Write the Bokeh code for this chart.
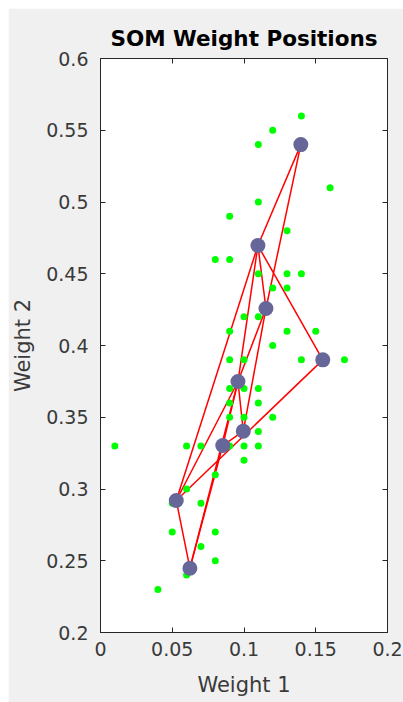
from bokeh.plotting import figure
from bokeh.models import LinearAxis, FixedTicker, CustomJSTickFormatter, Range1d
from bokeh.embed import file_html
from bokeh.resources import INLINE

# Input data (green dots)
data_w1 = [0.14, 0.12, 0.11, 0.16, 0.11, 0.09, 0.13, 0.08, 0.09, 0.11, 0.13, 0.14, 0.12, 0.13,
           0.10, 0.11, 0.09, 0.13, 0.15, 0.12, 0.09, 0.10, 0.14, 0.17, 0.09, 0.10, 0.11, 0.09,
           0.11, 0.09, 0.10, 0.12, 0.11, 0.01, 0.06, 0.07, 0.09, 0.10, 0.11, 0.10, 0.08, 0.06,
           0.05, 0.07, 0.05, 0.08, 0.07, 0.08, 0.06, 0.04]
data_w2 = [0.56, 0.55, 0.54, 0.51, 0.50, 0.49, 0.48, 0.46, 0.46, 0.45, 0.45, 0.45, 0.44, 0.44,
           0.42, 0.42, 0.41, 0.41, 0.41, 0.40, 0.39, 0.39, 0.39, 0.39, 0.37, 0.37, 0.37, 0.36,
           0.36, 0.35, 0.35, 0.35, 0.34, 0.33, 0.33, 0.33, 0.33, 0.33, 0.33, 0.32, 0.31, 0.30,
           0.29, 0.29, 0.27, 0.27, 0.26, 0.25, 0.24, 0.23]

# SOM neuron weights (3x3 hexagonal topology, neuron index order)
node_w1 = [0.1396, 0.1153, 0.0995, 0.1097, 0.0958, 0.0852, 0.1549, 0.0528, 0.0623]
node_w2 = [0.5400, 0.4258, 0.3403, 0.4697, 0.3749, 0.3303, 0.3900, 0.2920, 0.2448]

# neighbour links (neuron index pairs)
edges = [(0, 1), (1, 2), (3, 4), (4, 5), (6, 7), (7, 8), (0, 3), (1, 3),
         (1, 4), (2, 4), (2, 5), (3, 6), (3, 7), (4, 7), (4, 8), (5, 8)]

x_ticks = [0, 0.05, 0.1, 0.15, 0.2]
y_ticks = [0.2, 0.25, 0.3, 0.35, 0.4, 0.45, 0.5, 0.55, 0.6]

FONT = "DejaVu Sans"
AX_COLOR = "#262626"
TXT_COLOR = "#3a3a3a"

p = figure(width=395, height=694, margin=(8, 0, 0, 8),
           x_range=Range1d(0, 0.2), y_range=Range1d(0.2, 0.6),
           output_backend="svg", toolbar_location=None,
           title="SOM Weight Positions",
           min_border_left=91, min_border_right=16,
           min_border_top=50, min_border_bottom=70,
           background_fill_color="white", border_fill_color="#f0f0f0",
           outline_line_color=AX_COLOR, outline_line_width=1)

p.title.align = "center"
p.title.text_font = FONT
p.title.text_font_size = "21.5px"
p.title.text_font_style = "bold"
p.title.text_color = "#000000"
p.title.standoff = 15

p.xgrid.visible = False
p.ygrid.visible = False

fmt = CustomJSTickFormatter(code="""
    var s = tick.toFixed(2);
    s = s.replace(/0+$/, '').replace(/\\.$/, '');
    return s;
""")

for ax, ticks in ((p.xaxis[0], x_ticks), (p.yaxis[0], y_ticks)):
    ax.ticker = FixedTicker(ticks=ticks)
    ax.formatter = fmt
    ax.major_tick_in = 5
    ax.major_tick_out = 0
    ax.minor_tick_line_color = None
    ax.axis_line_color = AX_COLOR
    ax.major_tick_line_color = AX_COLOR
    ax.major_label_text_font = FONT
    ax.major_label_text_font_size = "19px"
    ax.major_label_text_color = TXT_COLOR
    ax.axis_label_text_font = FONT
    ax.axis_label_text_font_size = "21px"
    ax.axis_label_text_font_style = "normal"
    ax.axis_label_text_color = TXT_COLOR

p.xaxis.axis_label = "Weight 1"
p.yaxis.axis_label = "Weight 2"
p.xaxis.major_label_standoff = 9
p.yaxis.major_label_standoff = 12
p.xaxis.axis_label_standoff = 14
p.yaxis.axis_label_standoff = 8

# box ticks on top and right (no labels)
blank = CustomJSTickFormatter(code="return '';")
top_ax = LinearAxis(ticker=FixedTicker(ticks=x_ticks), formatter=blank,
                    major_tick_in=5, major_tick_out=0,
                    minor_tick_line_color=None, axis_line_color=AX_COLOR,
                    major_tick_line_color=AX_COLOR, major_label_standoff=0)
right_ax = LinearAxis(ticker=FixedTicker(ticks=y_ticks), formatter=blank,
                      major_tick_in=5, major_tick_out=0,
                      minor_tick_line_color=None, axis_line_color=AX_COLOR,
                      major_tick_line_color=AX_COLOR, major_label_standoff=0)
p.add_layout(top_ax, "above")
p.add_layout(right_ax, "right")

# links
x0 = [node_w1[a] for a, b in edges]
y0 = [node_w2[a] for a, b in edges]
x1 = [node_w1[b] for a, b in edges]
y1 = [node_w2[b] for a, b in edges]
p.segment(x0=x0, y0=y0, x1=x1, y1=y1, line_color="#ff0000", line_width=1.5)

# data
p.scatter(x=data_w1, y=data_w2, size=7, fill_color="#00ff00", line_color="#00ff00", line_width=0)

# neurons
p.scatter(x=node_w1, y=node_w2, size=15, fill_color="#666699", line_color="#666699", line_width=0)

open("out.html", "w").write(file_html(p, INLINE))
